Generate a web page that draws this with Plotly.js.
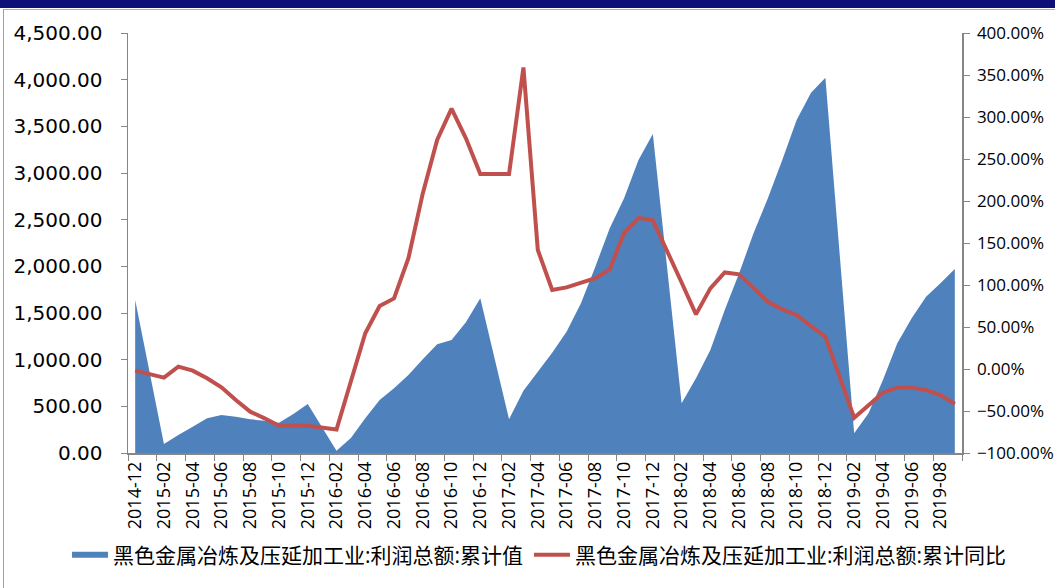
<!DOCTYPE html>
<html>
<head>
<meta charset="utf-8">
<script src="https://cdn.plot.ly/plotly-3.0.1.min.js"></script>
<style>
html,body{margin:0;padding:0;background:#fff;}
#wrap{position:relative;width:1055px;height:588px;overflow:hidden;}
#topbar{position:absolute;left:0;top:0;width:1055px;height:8px;background:#0f0f78;}
#topline{position:absolute;left:3px;top:9px;width:1052px;height:1px;background:#b0b0b0;}
#leftline{position:absolute;left:3px;top:9px;width:1px;height:579px;background:#a0a0a0;}
#chart{position:absolute;left:0;top:0;width:1055px;height:588px;}
</style>
</head>
<body>
<div id="wrap">
<div id="chart"></div>
<div id="topbar"></div>
<div id="topline"></div>
<div id="leftline"></div>
</div>
<script>
// Months (January values are not published; combined Jan-Feb reported in Feb)
const months = [
 "2014-12",
 "2015-01","2015-02","2015-03","2015-04","2015-05","2015-06","2015-07","2015-08","2015-09","2015-10","2015-11","2015-12",
 "2016-01","2016-02","2016-03","2016-04","2016-05","2016-06","2016-07","2016-08","2016-09","2016-10","2016-11","2016-12",
 "2017-01","2017-02","2017-03","2017-04","2017-05","2017-06","2017-07","2017-08","2017-09","2017-10","2017-11","2017-12",
 "2018-01","2018-02","2018-03","2018-04","2018-05","2018-06","2018-07","2018-08","2018-09","2018-10","2018-11","2018-12",
 "2019-01","2019-02","2019-03","2019-04","2019-05","2019-06","2019-07","2019-08","2019-09"
];

// 利润总额:累计值 (亿元)
const profitCum = [
 1640,
 null, 96, 193, 282, 371, 407, 389, 361, 346, 325, 418, 525,
 null, 25, 160, 371, 568, 693, 836, 1004, 1164, 1211, 1400, 1657,
 null, 361, 668, 871, 1075, 1300, 1604, 1996, 2407, 2729, 3139, 3418,
 null, 532, 800, 1104, 1532, 1925, 2354, 2729, 3139, 3568, 3861, 4021,
 null, 211, 425, 782, 1175, 1443, 1675, 1818, 1971
];

// 利润总额:累计同比 (%)
const profitYoY = [
 -2,
 null, -10.3, 2.8, -2, -11, -21.8, -37, -50.8, -58.7, -67.5, -67.5, -67.6,
 null, -72, -15, 42.5, 75, 84, 131.8, 209, 272.6, 310, 274.6, 232,
 null, 232, 359, 141.7, 94, 97.2, 102, 108, 118.6, 162, 180, 177,
 null, 103, 65, 96, 115, 112.7, 96, 80, 71, 64.3, 51, 38.5,
 null, -58, -42.9, -28.2, -22.2, -22.2, -25, -31, -41.7
];

const seriesNames = [
 "黑色金属冶炼及压延加工业:利润总额:累计值",
 "黑色金属冶炼及压延加工业:利润总额:累计同比"
];

const FONT = "'Open Sans', 'Noto Sans CJK SC', sans-serif";
const AXIS = "#868686";

const traces = [
 {
  type: "scatter", mode: "none", name: seriesNames[0],
  x: months, y: profitCum, fill: "tozeroy", fillcolor: "#4F81BD",
  connectgaps: true, yaxis: "y", legend: "legend"
 },
 {
  type: "scatter", mode: "lines", name: seriesNames[1],
  x: months, y: profitYoY, connectgaps: true,
  line: {color: "#C0504D", width: 4}, yaxis: "y2", legend: "legend2"
 }
];

const legendBase = {
 orientation: "h", xanchor: "left", y: -0.243, yanchor: "middle", itemwidth: 36,
 font: {size: 21, family: FONT, color: "#000"}, bgcolor: "rgba(0,0,0,0)"
};

const layout = {
 width: 1055, height: 588,
 margin: {l: 128, r: 93, t: 33, b: 135},
 paper_bgcolor: "rgba(0,0,0,0)", plot_bgcolor: "rgba(0,0,0,0)",
 font: {family: FONT, color: "#000"},
 showlegend: true,
 legend: Object.assign({}, legendBase, {x: -0.0731}),
 legend2: Object.assign({}, legendBase, {x: 0.4808}),
 xaxis: {
  type: "category", categoryorder: "array", categoryarray: months,
  range: [-0.5, 57.5], tickmode: "linear", tick0: 0, dtick: 2,
  tickson: "boundaries", ticks: "outside", ticklen: 6, tickcolor: AXIS,
  showline: true, linecolor: AXIS, linewidth: 1.5, showgrid: false, zeroline: false,
  tickangle: -90, tickfont: {size: 18, family: FONT}
 },
 yaxis: {
  range: [0, 4500], tickmode: "linear", tick0: 0, dtick: 500, tickformat: ",.2f",
  ticks: "outside", ticklen: 6, tickcolor: AXIS, showline: true, linecolor: AXIS, linewidth: 1.5,
  showgrid: false, zeroline: false, ticklabelstandoff: 14,
  tickfont: {size: 20, family: "'DejaVu Sans', sans-serif"}
 },
 yaxis2: {
  overlaying: "y", side: "right",
  range: [-100, 400], tickmode: "linear", tick0: -100, dtick: 50, tickformat: ".2f", ticksuffix: "%",
  ticks: "outside", ticklen: 6, tickcolor: AXIS, showline: true, linecolor: AXIS, linewidth: 1.5,
  showgrid: false, zeroline: false, ticklabelstandoff: 4, tickfont: {size: 17, family: FONT}
 }
};

Plotly.newPlot("chart", traces, layout, {displayModeBar: false, staticPlot: true});
</script>
</body>
</html>
